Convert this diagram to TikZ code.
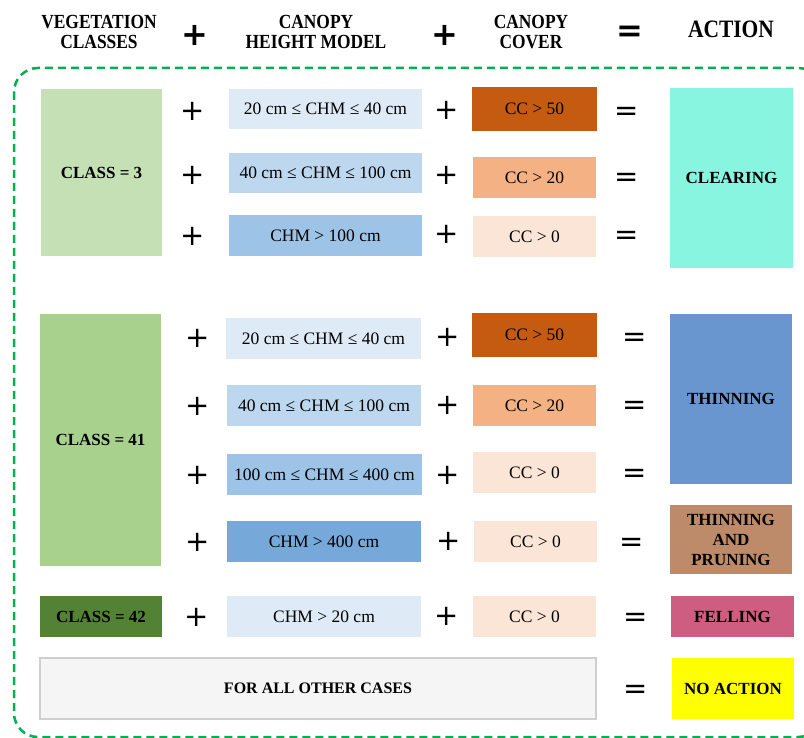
\documentclass[tikz,border=0pt]{standalone}
\usepackage{fontspec}
\setmainfont{Liberation Serif}
\newfontfamily\symfont{DejaVu Sans}
\definecolor{clA}{HTML}{C5E0B4}
\definecolor{clB}{HTML}{A9D18E}
\definecolor{clC}{HTML}{548235}
\definecolor{chmA}{HTML}{DEEBF7}
\definecolor{chmB}{HTML}{BDD7EE}
\definecolor{chmC}{HTML}{9DC3E6}
\definecolor{chmD}{HTML}{77A8DA}
\definecolor{ccA}{HTML}{C55A11}
\definecolor{ccB}{HTML}{F4B183}
\definecolor{ccC}{HTML}{FBE5D6}
\definecolor{actClear}{HTML}{88F5E0}
\definecolor{actThin}{HTML}{6A96D0}
\definecolor{actTP}{HTML}{BE8B6A}
\definecolor{actFell}{HTML}{CE5D82}
\definecolor{actNo}{HTML}{FFFF00}
\definecolor{otherFill}{HTML}{F5F5F5}
\definecolor{otherLine}{HTML}{CFCFCF}
\definecolor{dashGreen}{HTML}{00B050}
\newcommand\bx[7]{\node[#6, minimum width={(#4-#2)*1pt}, minimum height={(#5-#3)*1pt}] (#1) at ({(#2+#4)/2},{(#3+#5)/2}) {#7};}
\begin{document}
\begin{tikzpicture}[x=1pt,y=-1pt,
  box/.style={inner sep=0pt, outer sep=0pt, align=center, font=\fontsize{17.5}{20}\selectfont},
  lab/.style={box, font=\bfseries\fontsize{17}{20}\selectfont},
  hdr/.style={inner sep=0pt, align=center, font=\bfseries\fontsize{20}{20}\selectfont, xscale=0.87},
  pl/.style={inner sep=0pt, font=\symfont\fontsize{29}{29}\selectfont},
  eqs/.style={pl, yshift=-3.5pt},
  hpl/.style={inner sep=0pt, font=\symfont\bfseries\fontsize{32}{32}\selectfont},
  heq/.style={hpl, yshift=-3.5pt},
  frame/.style={draw=dashGreen, line width=2.5pt, dash pattern=on 8pt off 5pt, rounded corners=24pt}]
\useasboundingbox (0,0) rectangle (804,738);
\begin{scope}
\clip (0,0) rectangle (804,738);
\draw[frame] (14,68) rectangle (822,737);
\end{scope}
% header
\node[hdr] (h1) at (99,32) {VEGETATION\\CLASSES};
\node[hpl] (hp1) at (195,35) {+};
\node[hdr] (h2) at (316,32) {CANOPY\\HEIGHT MODEL};
\node[hpl] (hp2) at (445,35) {+};
\node[hdr] (h3) at (531,32) {CANOPY\\COVER};
\node[heq] (he) at (630,30) {=};
\node[inner sep=0pt, font=\bfseries\fontsize{25}{25}\selectfont, xscale=0.86] (h4) at (731,29) {ACTION};
% class 3
\bx{c3}{41}{89}{162}{256}{lab, fill=clA}{CLASS = 3}
\bx{c3a}{229}{89}{422}{129}{box, fill=chmA}{20 cm ≤ CHM ≤ 40 cm}
\bx{c3b}{229}{153}{422}{193}{box, fill=chmB}{40 cm ≤ CHM ≤ 100 cm}
\bx{c3c}{229}{215}{422}{256}{box, fill=chmC}{CHM > 100 cm}
\bx{d3a}{472}{87}{597}{131}{box, fill=ccA}{CC > 50}
\bx{d3b}{473}{157}{596}{198}{box, fill=ccB}{CC > 20}
\bx{d3c}{473}{216}{596}{257}{box, fill=ccC}{CC > 0}
\bx{aclear}{670}{88}{793}{268}{lab, fill=actClear}{CLEARING}
\node[pl] (p3a) at (193,111) {+};
\node[pl] (p3b) at (193,175) {+};
\node[pl] (p3c) at (193,236) {+};
\node[pl] (q3a) at (447,110) {+};
\node[pl] (q3b) at (447,175) {+};
\node[pl] (q3c) at (447,234) {+};
\node[eqs] (e3a) at (627,110) {=};
\node[eqs] (e3b) at (627,176) {=};
\node[eqs] (e3c) at (627,234) {=};
% class 41
\bx{c41}{40}{314}{161}{566}{lab, fill=clB}{CLASS = 41}
\bx{c41a}{226}{318}{421}{359}{box, fill=chmA}{20 cm ≤ CHM ≤ 40 cm}
\bx{c41b}{227}{385}{421}{426}{box, fill=chmB}{40 cm ≤ CHM ≤ 100 cm}
\bx{c41c}{227}{454}{422}{495}{box, fill=chmC}{100 cm ≤ CHM ≤ 400 cm}
\bx{c41d}{227}{521}{421}{562}{box, fill=chmD}{CHM > 400 cm}
\bx{d41a}{472}{313}{597}{357}{box, fill=ccA}{CC > 50}
\bx{d41b}{473}{385}{596}{426}{box, fill=ccB}{CC > 20}
\bx{d41c}{473}{452}{596}{493}{box, fill=ccC}{CC > 0}
\bx{d41d}{474}{521}{597}{562}{box, fill=ccC}{CC > 0}
\bx{athin}{670}{314}{792}{484}{lab, fill=actThin}{THINNING}
\bx{atp}{670}{505}{792}{574}{lab, fill=actTP}{THINNING\\AND\\PRUNING}
\node[pl] (p41a) at (198,338) {+};
\node[pl] (p41b) at (198,406) {+};
\node[pl] (p41c) at (198,475) {+};
\node[pl] (p41d) at (198,542) {+};
\node[pl] (q41a) at (448,337) {+};
\node[pl] (q41b) at (448,405) {+};
\node[pl] (q41c) at (448,475) {+};
\node[pl] (q41d) at (449,541) {+};
\node[eqs] (e41a) at (635,336) {=};
\node[eqs] (e41b) at (635,404) {=};
\node[eqs] (e41c) at (635,472) {=};
\node[eqs] (e41d) at (632,541) {=};
% class 42
\bx{c42}{40}{596}{162}{637}{lab, fill=clC}{CLASS = 42}
\bx{c42a}{227}{596}{421}{637}{box, fill=chmA}{CHM > 20 cm}
\bx{d42a}{473}{596}{596}{637}{box, fill=ccC}{CC > 0}
\bx{afell}{671}{596}{794}{637}{lab, fill=actFell}{FELLING}
\node[pl] (p42) at (197,617) {+};
\node[pl] (q42) at (447,616) {+};
\node[eqs] (e42) at (636,616) {=};
% other
\bx{oth}{40}{658}{596}{719}{lab, fill=otherFill, draw=otherLine, line width=2pt, font=\bfseries\fontsize{16}{20}\selectfont}{FOR ALL OTHER CASES}
\bx{anone}{672}{658}{794}{719}{lab, fill=actNo}{NO ACTION}
\node[eqs] (eo) at (636,688) {=};
\end{tikzpicture}
\end{document}
